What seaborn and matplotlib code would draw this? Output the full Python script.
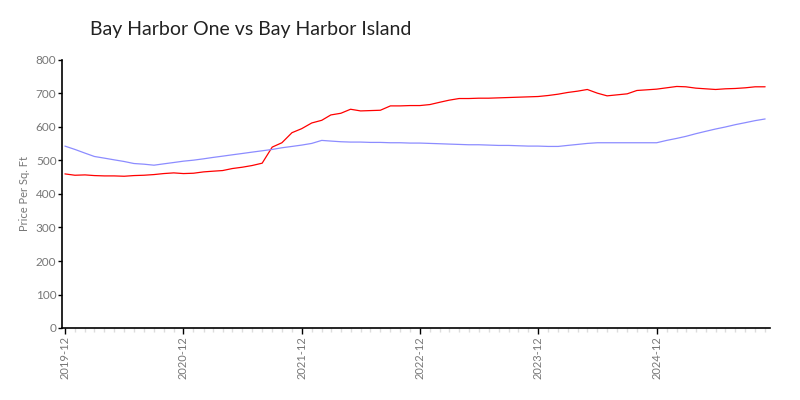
import pandas as pd
import matplotlib
matplotlib.use("Agg")
import matplotlib.pyplot as plt
import matplotlib.dates as mdates
import seaborn as sns

# Datos mensuales (precio por pie cuadrado), diciembre 2019 -> noviembre 2025
months = pd.date_range("2019-12-01", periods=72, freq="MS")

island = [460, 456, 457, 455, 454, 454, 453, 455, 456, 458, 461, 463,
          461, 462, 466, 468, 470, 476, 480, 485, 492, 540, 553, 583,
          595, 612, 620, 636, 641, 653, 648, 649, 650, 663, 663, 664,
          664, 667, 674, 680, 685, 685, 686, 686, 687, 688, 689, 690,
          691, 694, 698, 703, 707, 712, 701, 693, 696, 699, 709, 711,
          713, 717, 721, 720, 716, 714, 712, 714, 715, 717, 720, 720]

one = [543, 533, 522, 512, 507, 502, 497, 491, 489, 486, 490, 494,
       498, 501, 505, 509, 513, 517, 521, 525, 529, 533, 538, 542,
       546, 551, 560, 558, 556, 555, 555, 554, 554, 553, 553, 552,
       552, 551, 550, 549, 548, 547, 547, 546, 545, 545, 544, 543,
       543, 542, 542, 545, 548, 551, 553, 553, 553, 553, 553, 553,
       553, 560, 566, 572, 580, 587, 594, 600, 607, 613, 619, 624]

df = pd.DataFrame({"month": months, "Bay Harbor Island": island, "Bay Harbor One": one})

sns.set_theme(style="white")
plt.rcParams['font.family'] = ['Lato', 'DejaVu Sans']

fig = plt.figure(figsize=(8, 4), dpi=100)
ax = fig.add_axes([0.0775, 0.18, 0.885, 0.67])

sns.lineplot(x="month", y="Bay Harbor Island", data=df, ax=ax, color="#ff0000", linewidth=0.9)
sns.lineplot(x="month", y="Bay Harbor One", data=df, ax=ax, color="#8c8cff", linewidth=0.9)

ax.set_ylim(0, 800)
ax.set_yticks(range(0, 801, 100))
ax.set_xlim(pd.Timestamp("2019-11-22"), pd.Timestamp("2025-11-16"))

ax.xaxis.set_major_locator(mdates.MonthLocator(bymonth=12))
ax.xaxis.set_major_formatter(mdates.DateFormatter("%Y-%m"))
ax.xaxis.set_minor_locator(mdates.MonthLocator())

ax.tick_params(axis="x", which="major", bottom=True, length=4, width=1, color="black",
               labelsize=8, labelcolor="#777777", labelrotation=90, pad=2)
ax.tick_params(axis="x", which="minor", bottom=True, length=3, width=1, color="#dddddd")
ax.tick_params(axis="y", left=True, length=3, width=1, color="black",
               labelsize=8.5, labelcolor="#777777", pad=1)

for s in ["top", "right"]:
    ax.spines[s].set_visible(False)
for s in ["left", "bottom"]:
    ax.spines[s].set_color("black")
    ax.spines[s].set_linewidth(1.2)

ax.set_xlabel("")
ax.set_ylabel("Price Per Sq. Ft", fontsize=8, color="#777777", labelpad=4)

fig.text(0.1125, 0.925, "Bay Harbor One vs Bay Harbor Island", fontsize=14,
         color="#222222", ha="left", va="center", fontweight="normal")

plt.savefig("out.png", dpi=100)
plt.close()
